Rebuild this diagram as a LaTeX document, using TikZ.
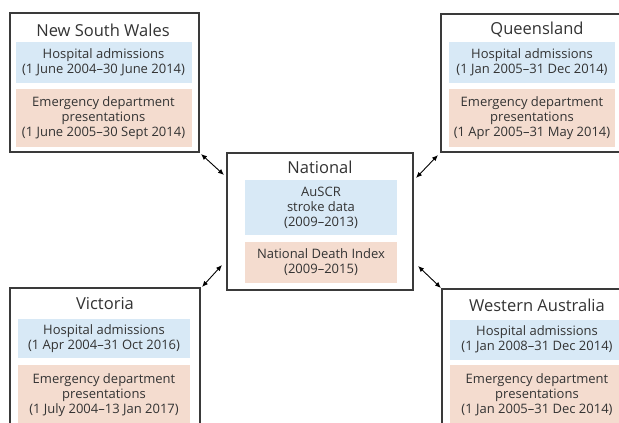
\documentclass[tikz,border=0pt]{standalone}
\usepackage{fontspec}
\setmainfont{Open Sans}
\usetikzlibrary{arrows.meta,calc}
\definecolor{bluebox}{HTML}{D8E9F6}
\definecolor{pinkbox}{HTML}{F4DCCF}
\definecolor{framecol}{HTML}{3A3A3A}
\definecolor{textcol}{HTML}{333333}
\begin{document}
\begin{tikzpicture}[x=1pt,y=-1pt,
  statebox/.style={draw=framecol, line width=1.1pt, fill=white, inner sep=0pt, outer sep=0pt},
  titletext/.style={font=\fontsize{16.5}{19}\selectfont, text=textcol, inner sep=0pt},
  bluecell/.style={fill=bluebox, inner sep=0pt, align=center, text=textcol,
    font=\fontsize{13}{15}\selectfont},
  pinkcell/.style={fill=pinkbox, inner sep=0pt, align=center, text=textcol,
    font=\fontsize{13}{15}\selectfont},
  link/.style={{Latex[length=6pt,width=5pt]}-{Latex[length=6pt,width=5pt]}, line width=0.9pt, black}
]
\useasboundingbox (0,0) rectangle (619,423);
\begin{scope}
\clip (0,0) rectangle (619,423);
\fill[white] (0,0) rectangle (619,423);

% New South Wales
\node[statebox, minimum width=189pt, minimum height=139pt] (nsw) at (104.5,82.5) {};
\node[titletext] (nswT) at (103,30) {New South Wales};
\node[bluecell, minimum width=176pt, minimum height=41pt] (nswH) at (103.5,62.5)
  {Hospital admissions\\(1 June 2004–30 June 2014)};
\node[pinkcell, minimum width=176pt, minimum height=58pt] (nswE) at (103.5,118)
  {Emergency department\\presentations\\(1 June 2005–30 Sept 2014)};

% Queensland
\node[statebox, minimum width=182pt, minimum height=138pt] (qld) at (532,83) {};
\node[titletext] (qldT) at (537,30) {Queensland};
\node[bluecell, minimum width=166pt, minimum height=41pt] (qldH) at (532,62.5)
  {Hospital admissions\\(1 Jan 2005–31 Dec 2014)};
\node[pinkcell, minimum width=166pt, minimum height=58pt] (qldE) at (532,118)
  {Emergency department\\presentations\\(1 Apr 2005–31 May 2014)};

% National
\node[statebox, minimum width=186pt, minimum height=137pt] (nat) at (320,221.5) {};
\node[titletext] (natT) at (320,167) {National};
\node[bluecell, minimum width=152pt, minimum height=55pt] (natA) at (321,207.5)
  {AuSCR\\stroke data\\(2009–2013)};
\node[pinkcell, minimum width=152pt, minimum height=41pt] (natD) at (321,262.5)
  {National Death Index\\(2009–2015)};

% Victoria
\node[statebox, minimum width=190pt, minimum height=145pt] (vic) at (105,360.5) {};
\node[titletext] (vicT) at (105,304) {Victoria};
\node[bluecell, minimum width=172pt, minimum height=39pt] (vicH) at (104,338.5)
  {Hospital admissions\\(1 Apr 2004–31 Oct 2016)};
\node[pinkcell, minimum width=172pt, minimum height=60pt] (vicE) at (104,395)
  {Emergency department\\presentations\\(1 July 2004–13 Jan 2017)};

% Western Australia
\node[statebox, minimum width=190pt, minimum height=145pt] (wa) at (537,361.5) {};
\node[titletext] (waT) at (537,305) {Western Australia};
\node[bluecell, minimum width=174pt, minimum height=40pt] (waH) at (537,339.5)
  {Hospital admissions\\(1 Jan 2008–31 Dec 2014)};
\node[pinkcell, minimum width=174pt, minimum height=60pt] (waE) at (537,395)
  {Emergency department\\presentations\\(1 Jan 2005–31 Dec 2014)};
\end{scope}

% connector ends
\coordinate (nswEnd) at (201,154);
\coordinate (natNW) at (224,175);
\coordinate (qldEnd) at (438,155);
\coordinate (natNE) at (416,178);
\coordinate (vicEnd) at (202,287);
\coordinate (natSW) at (222,265);
\coordinate (waEnd) at (441,288);
\coordinate (natSE) at (418,266);

\draw[link] (nswEnd) -- (natNW);
\draw[link] (qldEnd) -- (natNE);
\draw[link] (vicEnd) -- (natSW);
\draw[link] (waEnd) -- (natSE);
\end{tikzpicture}
\end{document}
